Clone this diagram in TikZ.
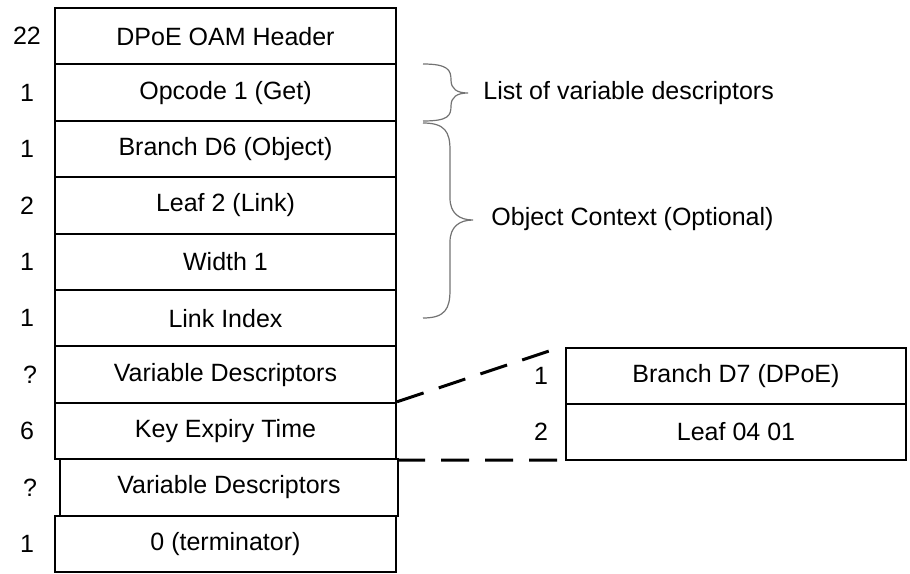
\documentclass[tikz,border=0pt]{standalone}
\usepackage{fontspec}
\setmainfont{Liberation Sans}
\usepackage{tikz}

\tikzset{
  field/.style={draw, line width=1pt, minimum width=170.5pt, minimum height=28.2pt, inner sep=0pt},
  num/.style={inner sep=0pt},
  dashline/.style={line width=1.5pt, dash pattern=on 14pt off 8pt},
  braceline/.style={gray!90!black, line width=0.6pt}
}

\begin{document}
\begin{tikzpicture}[x=0.5pt, y=-0.5pt, font=\fontsize{12.5}{15}\selectfont]
\useasboundingbox (0,0) rectangle (910,573);

% Fields
\node[field] (hdr) at (225.5,36.2) {DPoE OAM Header};
\node[field] (opc) at (225.5,92.6) {Opcode 1 (Get)};
\node[field] (bra) at (225.5,149.0) {Branch D6 (Object)};
\node[field] (lea) at (225.5,205.4) {Leaf 2 (Link)};
\node[field] (wid) at (225.5,261.8) {Width 1};
\node[field] (idx) at (225.5,318.2) {Link Index};
\node[field] (var) at (225.5,374.6) {Variable Descriptors};
\node[field] (key) at (225.5,431.0) {Key Expiry Time};
\node[field, minimum width=169pt] (vartwo) at (229,487.4) {Variable Descriptors};
\node[field] (term) at (225.5,543.8) {0 (terminator)};

% Sizes
\node[num] (s1) at (27,36.2) {22};
\node[num] (s2) at (27,92.6) {1};
\node[num] (s3) at (27,149.0) {1};
\node[num] (s4) at (27,205.4) {2};
\node[num] (s5) at (27,261.8) {1};
\node[num] (s6) at (27,318.2) {1};
\node[num] (s7) at (30,374.6) {?};
\node[num] (s8) at (27,431.0) {6};
\node[num] (s9) at (30,487.4) {?};
\node[num] (s10) at (27,543.8) {1};

% Expanded descriptor
\node[field, minimum width=170pt] (dbr) at (736,376) {Branch D7 (DPoE)};
\node[field, minimum width=170pt] (dlf) at (736,432) {Leaf 04 01};
\node[num] (t1) at (541,376) {1};
\node[num] (t2) at (541,432) {2};

% Dashed lines
\coordinate (up) at (552,350);
\coordinate (lo) at (560,460);
\draw[dashline] (key.north east) -- (up);
\draw[dashline] (key.south east) -- (lo);

% Braces
\draw[braceline] (423,64) .. controls (448,64) and (451,70) .. (451,80)
  .. controls (451,89) and (457,93) .. (468,93)
  .. controls (457,93) and (451,97) .. (451,106)
  .. controls (451,116) and (448,121) .. (423,121);
\draw[braceline] (423,123) .. controls (445,123) and (450,132) .. (450,150)
  -- (450,198) .. controls (450,213) and (459,220) .. (473,220)
  .. controls (459,220) and (450,227) .. (450,242)
  -- (450,290) .. controls (450,309) and (445,318) .. (423,318);

% Labels
\node[anchor=west, inner sep=0pt] (lvd) at (483,93) {List of variable descriptors};
\node[anchor=west, inner sep=0pt] (obc) at (491,219) {Object Context (Optional)};

\end{tikzpicture}
\end{document}
